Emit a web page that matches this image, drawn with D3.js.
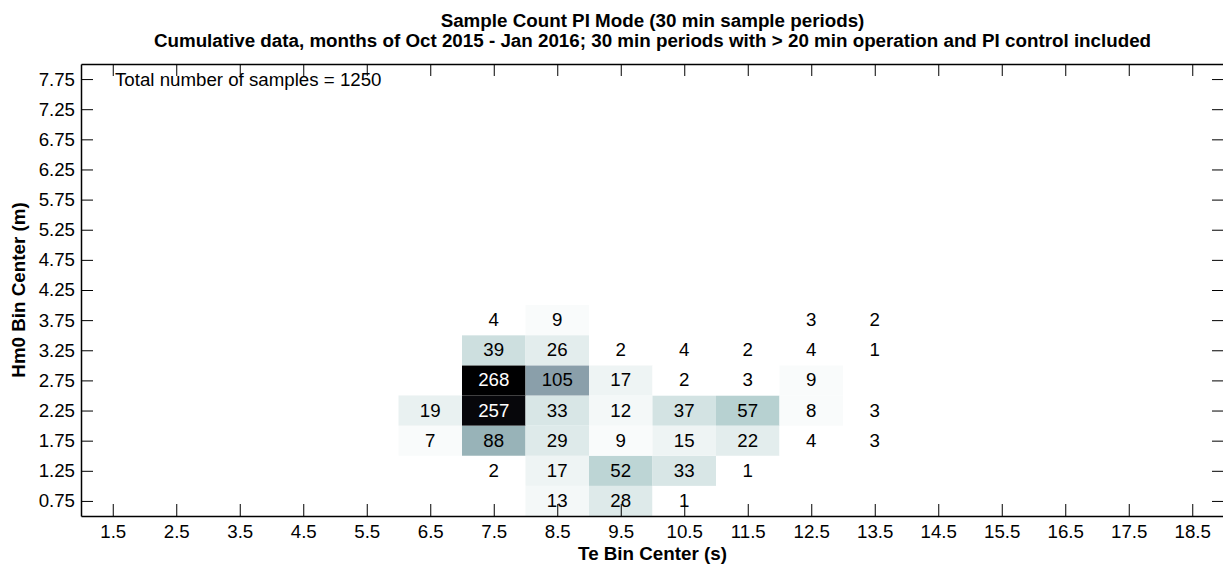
<!DOCTYPE html>
<html>
<head>
<meta charset="utf-8">
<script src="https://cdn.jsdelivr.net/npm/d3@7"></script>
<style>
  html, body { margin: 0; padding: 0; background: #fff; overflow: hidden; }
  svg { display: block; font-family: "Liberation Sans", Arial, Helvetica, sans-serif; }
</style>
</head>
<body>
<svg id="chart" width="1223" height="565"></svg>
<script>
// ---- Data ----
const titleLines = [
  "Sample Count PI Mode (30 min sample periods)",
  "Cumulative data, months of Oct 2015 - Jan 2016; 30 min periods with > 20 min operation and PI control included"
];
const xLabel = "Te Bin Center (s)";
const yLabel = "Hm0 Bin Center (m)";
const totalText = "Total number of samples = 1250";

// Tick labels (bin centers)
const teTicks = [1.5, 2.5, 3.5, 4.5, 5.5, 6.5, 7.5, 8.5, 9.5, 10.5, 11.5, 12.5, 13.5, 14.5, 15.5, 16.5, 17.5, 18.5];
const hm0Ticks = [0.75, 1.25, 1.75, 2.25, 2.75, 3.25, 3.75, 4.25, 4.75, 5.25, 5.75, 6.25, 6.75, 7.25, 7.75];

// Count matrix: columns = Te bin centers, rows = Hm0 bin centers (0 = no samples)
const countTe = [6.5, 7.5, 8.5, 9.5, 10.5, 11.5, 12.5, 13.5];
const countHm0 = [0.75, 1.25, 1.75, 2.25, 2.75, 3.25, 3.75];
const counts = [
  [0,   0,  13, 28,  1,  0, 0, 0],  // 0.75
  [0,   2,  17, 52, 33,  1, 0, 0],  // 1.25
  [7,  88,  29,  9, 15, 22, 4, 3],  // 1.75
  [19, 257, 33, 12, 37, 57, 8, 3],  // 2.25
  [0, 268, 105, 17,  2,  3, 9, 0],  // 2.75
  [0,  39,  26,  2,  4,  2, 4, 1],  // 3.25
  [0,   4,   9,  0,  0,  0, 3, 2]   // 3.75
];

// ---- Layout ----
const pLeft = 81, pRight = 1224, pTop = 64, pBottom = 516;
const FS = 18.7, FSB = 18.8;
const svg = d3.select("#chart");

const x = d3.scaleLinear().domain([1, 19]).range([pLeft, pRight]);
const y = d3.scaleLinear().domain([0.5, 8]).range([pBottom, pTop]);

// MATLAB-like flipud(bone(64)) colormap
function boneMap(m) {
  const n = Math.floor(3 / 8 * m);
  const out = [];
  for (let i = 0; i < m; i++) {
    const g = i / (m - 1);
    const hr = i < n ? (i + 1) / n : 1;
    const hg = i < n ? 0 : (i < 2 * n ? (i - n + 1) / n : 1);
    const hb = i < 2 * n ? 0 : (i - 2 * n + 1) / (m - 2 * n);
    out.push([(7 * g + hb) / 8, (7 * g + hg) / 8, (7 * g + hr) / 8]);
  }
  return out;
}
const cmap = boneMap(64).reverse();
const cells = [];
counts.forEach((row, ri) => row.forEach((c, ci) => {
  if (c > 0) cells.push({ te: countTe[ci], hm0: countHm0[ri], count: c });
}));
const cMin = d3.min(cells, d => d.count), cMax = d3.max(cells, d => d.count);
function colorOf(c) {
  let idx = Math.floor((c - cMin) / (cMax - cMin) * 64);
  idx = Math.max(0, Math.min(63, idx));
  const v = cmap[idx];
  return d3.rgb(v[0] * 255, v[1] * 255, v[2] * 255);
}

// cells
const cellG = svg.append("g");
cellG.selectAll("rect").data(cells).enter().append("rect")
  .attr("x", d => x(d.te - 0.5))
  .attr("y", d => y(d.hm0 + 0.25))
  .attr("width", d => x(d.te + 0.5) - x(d.te - 0.5))
  .attr("height", d => y(d.hm0 - 0.25) - y(d.hm0 + 0.25))
  .attr("fill", d => colorOf(d.count));

cellG.selectAll("text").data(cells).enter().append("text")
  .attr("x", d => x(d.te))
  .attr("y", d => y(d.hm0))
  .attr("dy", "0.32em")
  .attr("text-anchor", "middle")
  .attr("font-size", FS)
  .attr("fill", d => {
    const c = colorOf(d.count);
    return (0.299 * c.r + 0.587 * c.g + 0.114 * c.b) < 80 ? "#fff" : "#000";
  })
  .text(d => d.count);

// Axes
const axB = svg.append("g").attr("transform", `translate(0,${pBottom})`)
  .call(d3.axisBottom(x).tickValues(teTicks).tickSizeInner(-12).tickSizeOuter(0).tickPadding(8.7).tickFormat(d3.format("")));
const axT = svg.append("g").attr("transform", `translate(0,${pTop})`)
  .call(d3.axisTop(x).tickValues(teTicks).tickSizeInner(-12).tickSizeOuter(0).tickFormat(""));
const axL = svg.append("g").attr("transform", `translate(${pLeft},0)`)
  .call(d3.axisLeft(y).tickValues(hm0Ticks).tickSizeInner(-12).tickSizeOuter(0).tickPadding(6).tickFormat(d3.format(".2f")));
const axR = svg.append("g").attr("transform", `translate(${pRight},0)`)
  .call(d3.axisRight(y).tickValues(hm0Ticks).tickSizeInner(-12).tickSizeOuter(0).tickFormat(""));

[axB, axT, axL, axR].forEach(a => {
  a.select(".domain").attr("stroke", "#000").attr("stroke-width", 1.5);
  a.selectAll(".tick line").attr("stroke", "#000").attr("stroke-width", 1);
  a.selectAll(".tick text").attr("fill", "#000").attr("font-size", FS)
    .attr("font-family", "'Liberation Sans', Arial, Helvetica, sans-serif");
});

// Total text
svg.append("text").attr("x", 115).attr("y", 86)
  .attr("font-size", FS).attr("fill", "#000").text(totalText);

// Titles
svg.append("text").attr("x", (pLeft + pRight) / 2).attr("y", 27)
  .attr("text-anchor", "middle").attr("font-size", FSB).attr("font-weight", "bold").text(titleLines[0]);
svg.append("text").attr("x", (pLeft + pRight) / 2).attr("y", 47)
  .attr("text-anchor", "middle").attr("font-size", FSB).attr("font-weight", "bold").text(titleLines[1]);

// Axis labels
svg.append("text").attr("x", (pLeft + pRight) / 2).attr("y", 560)
  .attr("text-anchor", "middle").attr("font-size", FSB).attr("font-weight", "bold").text(xLabel);
svg.append("text").attr("transform", `translate(25,${(pTop + pBottom) / 2}) rotate(-90)`)
  .attr("text-anchor", "middle").attr("font-size", FSB).attr("font-weight", "bold").text(yLabel);
</script>
</body>
</html>
